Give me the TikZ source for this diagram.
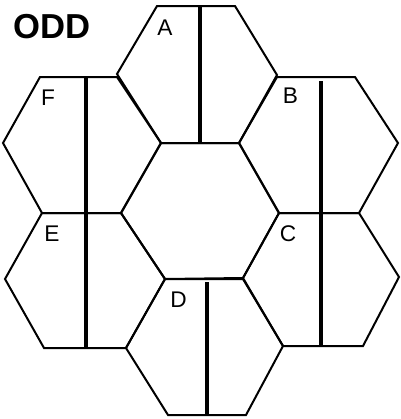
\documentclass[tikz,border=0pt]{standalone}
\usepackage{fontspec}
\setmainfont{Liberation Sans}
\begin{document}
\begin{tikzpicture}[x=0.75pt,y=-0.75pt,
  hexline/.style={line width=1.5pt,line join=miter},
  divline/.style={line width=2.3pt},
  lbl/.style={inner sep=0pt,font=\fontsize{17}{20}\selectfont},
  ttl/.style={inner sep=0pt,font=\fontsize{26}{30}\selectfont\bfseries}]
\useasboundingbox (0,0) rectangle (401,419);
% centre
\draw[hexline] (161,143) -- (239,143) -- (279,213) -- (243,278) -- (165,279) -- (121,213) -- cycle;
% A
\draw[hexline] (157,6) -- (235,6) -- (277,75) -- (239,143) -- (161,143) -- (117,74) -- cycle;
% B
\draw[hexline] (277,77) -- (355,77) -- (398,143) -- (359,213) -- (279,213) -- (239,143) -- cycle;
% C
\draw[hexline] (279,213) -- (359,213) -- (399,277) -- (363,346) -- (283,346) -- (243,278) -- cycle;
% D
\draw[hexline] (165,279) -- (243,279) -- (283,346) -- (246,415) -- (168,415) -- (126,348) -- cycle;
% E
\draw[hexline] (42,213) -- (121,213) -- (165,279) -- (126,348) -- (44,348) -- (5,279) -- cycle;
% F
\draw[hexline] (40,77) -- (117,77) -- (161,143) -- (121,213) -- (42,213) -- (3,143) -- cycle;
% dividing lines
\draw[divline] (200,6) -- (200,143);
\draw[divline] (86,77) -- (86,348);
\draw[divline] (321,81) -- (321,346);
\draw[divline] (207,282) -- (207,415);
% labels
\node[ttl] (title) at (52,26.5) {ODD};
\node[lbl] (A) at (165,27.5) {A};
\node[lbl] (B) at (290.5,96) {B};
\node[lbl] (C) at (288,233.5) {C};
\node[lbl] (D) at (178.5,299.5) {D};
\node[lbl] (E) at (52,234) {E};
\node[lbl] (F) at (48,97.5) {F};
\end{tikzpicture}
\end{document}
